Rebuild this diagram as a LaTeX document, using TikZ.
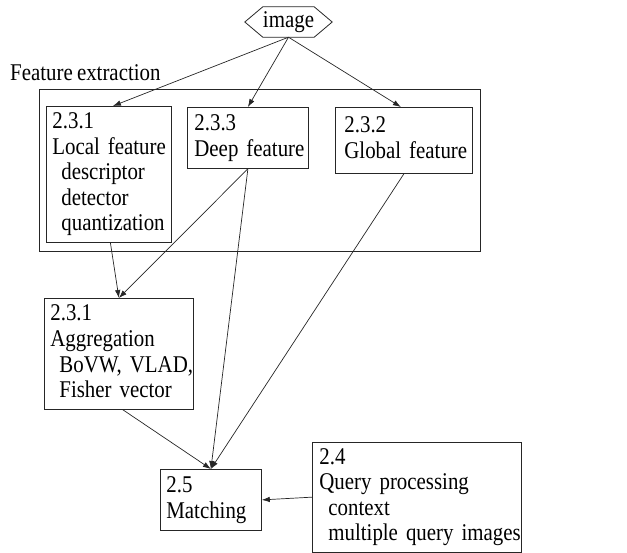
\documentclass[tikz,border=0pt]{standalone}
\usepackage{fontspec}
\setmainfont[FakeStretch=0.87]{Liberation Serif}
\usetikzlibrary{arrows.meta}
\newcommand\bxl[1]{\mbox{#1}}
\newcommand\bxi[1]{\mbox{\hspace*{9pt}#1}}
\newcommand\bxfont{\fontsize{24}{25.6}\selectfont\spaceskip=4.2pt plus 1pt minus 1pt\relax}
\begin{document}
\begin{tikzpicture}[x=1pt,y=-1pt,
  txt/.style={font=\bxfont},
  bx/.style={txt,draw=black!85,line width=0.8pt,anchor=north west,align=left,inner ysep=0pt},
  arr/.style={draw=black!85,line width=0.7pt,-{Latex[length=8pt,width=5.5pt]}}]
\useasboundingbox (0,0) rectangle (627,552);
% image hexagon
\node[txt,minimum width=87pt,minimum height=30pt,inner sep=0pt] (img) at (288.5,22) {image};
\draw[draw=black!85,line width=0.8pt] (img.west) -- ([xshift=18pt]img.north west) -- ([xshift=-18pt]img.north east) -- (img.east) -- ([xshift=-18pt]img.south east) -- ([xshift=18pt]img.south west) -- cycle;
% feature extraction group
\node[txt,anchor=base west,inner sep=0pt] (felabel) at (10,80) {Feature extraction};
\node[draw=black!85,line width=0.8pt,anchor=north west,minimum width=441pt,minimum height=162pt,inner sep=0pt] (fe) at (39,89) {};
% boxes
\node[bx,inner xsep=6pt,text width=113pt,minimum height=136pt] (local) at (46,106)
  {\bxl{2.3.1}\\\bxl{Local feature}\\\bxi{descriptor}\\\bxi{detector}\\\bxi{quantization}};
\node[bx,inner xsep=7pt,text width=107pt,minimum height=61pt] (deep) at (187,107)
  {\bxl{2.3.3}\\\bxl{Deep feature}};
\node[bx,inner xsep=9pt,text width=119pt,minimum height=66pt] (global) at (335,107)
  {\bxl{2.3.2}\\\bxl{Global feature\vphantom{p}}};
\node[bx,inner xsep=6pt,text width=137pt,minimum height=111pt] (agg) at (44,298)
  {\bxl{2.3.1}\\\bxl{Aggregation}\\\bxi{BoVW, VLAD,}\\\bxi{Fisher vector\vphantom{g}}};
\node[bx,inner xsep=6pt,text width=89pt,minimum height=61pt] (match) at (160,469)
  {\bxl{2.5}\\\bxl{Matching}};
\node[bx,inner xsep=7pt,text width=195pt,minimum height=109.5pt] (query) at (312,442)
  {\bxl{2.4}\\\bxl{Query processing}\\\bxi{context}\\\bxi{multiple query images}};
% connectors
\draw[arr] (img.south) -- ([xshift=4pt]local.north);
\draw[arr] (img.south) -- (deep.north);
\draw[arr] (img.south) -- ([xshift=-3pt]global.north);
\draw[arr] ([xshift=1.5pt]local.south) -- (agg.north);
\draw[arr] (deep.south) -- (agg.north);
\draw[arr] (deep.south) -- (match.north);
\draw[arr] (global.south) -- (match.north);
\draw[arr] ([xshift=4pt]agg.south) -- (match.north);
\draw[arr] (query.west) -- (match.east);
\end{tikzpicture}
\end{document}
